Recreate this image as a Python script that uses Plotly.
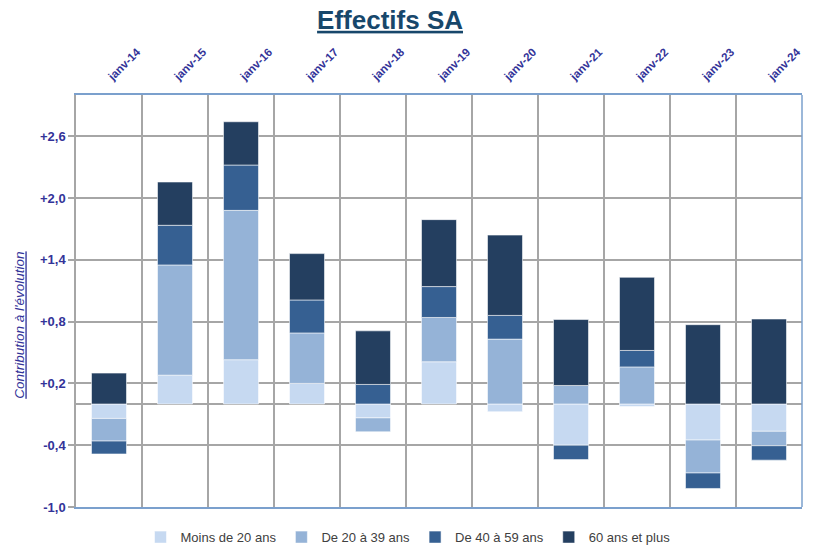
import plotly.graph_objects as go

categories = ["janv-14", "janv-15", "janv-16", "janv-17", "janv-18", "janv-19",
              "janv-20", "janv-21", "janv-22", "janv-23", "janv-24"]

moins_20 = [-0.14, 0.28, 0.43, 0.20, -0.135, 0.41, -0.075, -0.40, -0.025, -0.35, -0.265]
de_20_39 = [-0.22, 1.07, 1.45, 0.49, -0.135, 0.43, 0.63, 0.18, 0.36, -0.32, -0.14]
de_40_59 = [-0.125, 0.385, 0.44, 0.32, 0.19, 0.30, 0.23, -0.14, 0.16, -0.15, -0.14]
plus_60 = [0.30, 0.42, 0.42, 0.45, 0.52, 0.65, 0.78, 0.64, 0.71, 0.77, 0.825]

series_names = ["Moins de 20 ans", "De 20 à 39 ans", "De 40 à 59 ans", "60 ans et plus"]
series_values = [moins_20, de_20_39, de_40_59, plus_60]
series_colors = ["#C6D9F1", "#95B3D7", "#366092", "#243F60"]

y_tickvals = [-1.0, -0.4, 0.2, 0.8, 1.4, 2.0, 2.6]
y_ticktext = ["-1,0", "-0,4", "+0,2", "+0,8", "+1,4", "+2,0", "+2,6"]

label_color = "#333399"
grid_color = "#A6A6A6"
blue_line = "#7BA0CD"
FONT = "Liberation Sans, Arial, sans-serif"

fig = go.Figure()
for name, vals, col in zip(series_names, series_values, series_colors):
    fig.add_trace(go.Bar(
        x=categories, y=vals, name=name,
        marker=dict(color=col, line=dict(color="rgba(255,255,255,0.55)", width=1)),
        width=0.53,
    ))

fig.update_layout(
    width=816, height=547,
    barmode="relative",
    plot_bgcolor="white", paper_bgcolor="white",
    margin=dict(l=76, r=14, t=95, b=40, autoexpand=False),
    font=dict(family=FONT),
    title=dict(
        text="<b><u>Effectifs SA</u></b>",
        x=0.478, xanchor="center", xref="container",
        y=0.964, yanchor="middle",
        font=dict(size=26, color="#17476B", family=FONT),
    ),
    legend=dict(
        orientation="h", xref="container", yref="container",
        x=0.5, xanchor="center", y=0.018, yanchor="middle",
        font=dict(size=13, color="#404040", family=FONT),
        traceorder="normal",
    ),
    showlegend=True,
    xaxis=dict(
        type="category", side="top", automargin=False,
        tickson="boundaries",
        showgrid=True, gridcolor=grid_color, gridwidth=1.5,
        showline=True, mirror=True, linecolor=blue_line, linewidth=1.5,
        ticks="", tickangle=-45, ticklabelstandoff=6,
        tickfont=dict(size=11.5, color=label_color, family=FONT, weight="bold"),
    ),
    yaxis=dict(
        range=[-1.0, 3.0], automargin=False,
        tickvals=y_tickvals, ticktext=y_ticktext,
        showgrid=True, gridcolor=grid_color, gridwidth=1.5,
        zeroline=True, zerolinecolor=grid_color, zerolinewidth=1.5,
        showline=True, linecolor=grid_color, linewidth=1.5,
        ticks="outside", ticklen=6, tickcolor=grid_color, tickwidth=1.5,
        tickfont=dict(size=13, color=label_color, family=FONT, weight="bold"),
    ),
    annotations=[dict(
        text="<i><u>Contribution à l'évolution</u></i>",
        xref="paper", yref="paper", x=-0.077, y=0.44,
        xanchor="center", yanchor="middle", textangle=-90, showarrow=False,
        font=dict(size=13.5, color=label_color, family=FONT),
    )],
    shapes=[dict(type="line", xref="paper", yref="paper", x0=1, x1=1, y0=0, y1=1,
                 line=dict(color=blue_line, width=1.5))],
)

fig.write_html("out.html", config={"displayModeBar": False},
               post_script="document.body.style.margin='0px';")
